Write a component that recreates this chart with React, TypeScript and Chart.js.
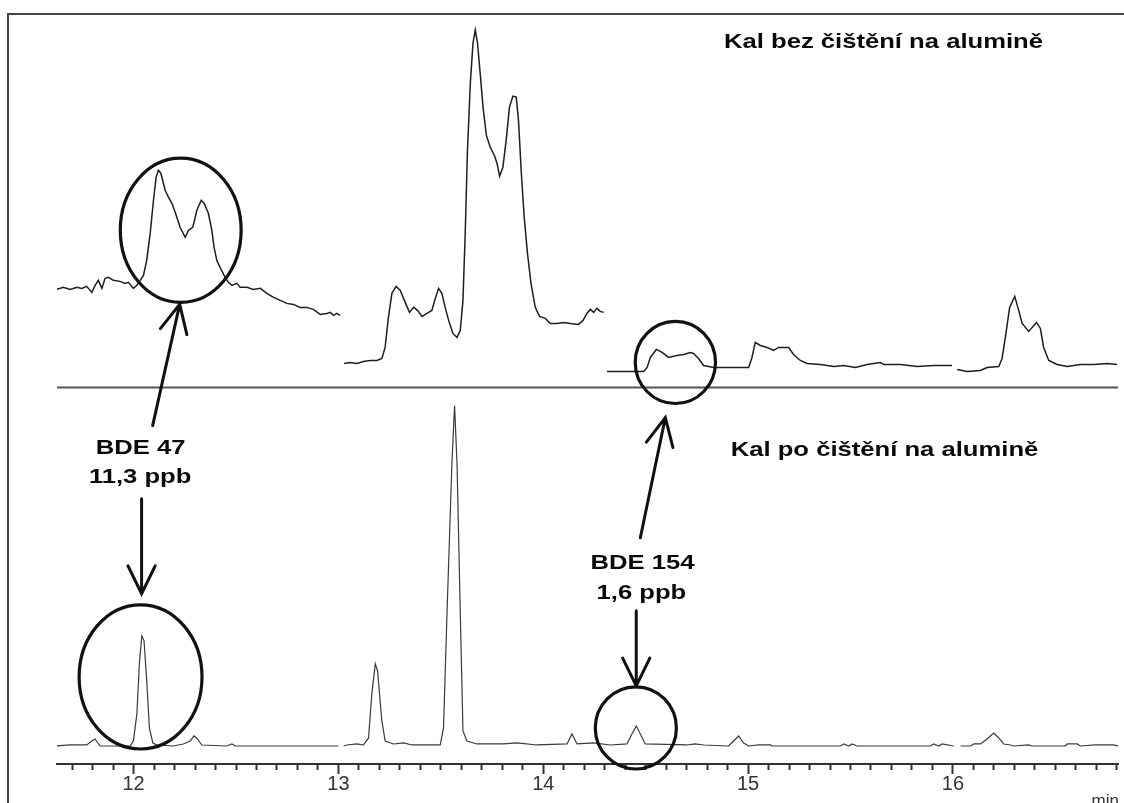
import React, { useEffect, useRef } from "react";
import { Chart, registerables } from "chart.js";

Chart.register(...registerables);

// ---------- data (time in min, signal in detector units) ----------
const upper1Time = [11.625, 11.657, 11.69, 11.723, 11.747, 11.771, 11.796, 11.812, 11.828, 11.845, 11.861, 11.877, 11.901, 11.934, 11.958, 11.975, 11.999, 12.016, 12.032, 12.048, 12.064, 12.081, 12.097, 12.11, 12.121, 12.133, 12.154, 12.17, 12.187, 12.203, 12.227, 12.252, 12.268, 12.289, 12.309, 12.33, 12.344, 12.365, 12.382, 12.393, 12.406, 12.422, 12.447, 12.463, 12.48, 12.504, 12.52, 12.553, 12.585, 12.618, 12.651, 12.683, 12.716, 12.748, 12.781, 12.813, 12.846, 12.878, 12.911, 12.944, 12.96, 12.976, 12.992, 13.009];
const upper1Signal = [474, 476, 474, 476, 475, 477, 471, 478, 483, 475, 485, 486, 483, 482, 480, 481, 475, 478, 483, 488, 503, 530, 563, 586, 593, 590, 573, 566, 560, 551, 536, 526, 533, 536, 553, 563, 560, 550, 533, 516, 503, 496, 486, 481, 478, 480, 476, 476, 474, 475, 470, 466, 463, 460, 459, 456, 456, 454, 449, 450, 451, 448, 450, 448];

const upper2Time = [13.028, 13.057, 13.09, 13.122, 13.155, 13.188, 13.212, 13.228, 13.244, 13.261, 13.282, 13.302, 13.326, 13.347, 13.367, 13.386, 13.408, 13.432, 13.456, 13.473, 13.489, 13.505, 13.521, 13.538, 13.559, 13.579, 13.595, 13.608, 13.619, 13.63, 13.644, 13.657, 13.668, 13.679, 13.692, 13.706, 13.722, 13.741, 13.761, 13.774, 13.787, 13.803, 13.819, 13.835, 13.852, 13.868, 13.879, 13.893, 13.907, 13.923, 13.94, 13.961, 13.982, 14.01, 14.034, 14.067, 14.099, 14.132, 14.172, 14.194, 14.213, 14.23, 14.246, 14.262, 14.278, 14.295];
const upper2Signal = [400, 401, 400, 402, 403, 403, 405, 416, 446, 470, 477, 473, 461, 451, 456, 453, 447, 450, 453, 465, 475, 470, 456, 443, 430, 426, 433, 463, 530, 613, 680, 720, 733, 720, 690, 656, 628, 616, 608, 600, 587, 596, 623, 656, 667, 666, 643, 590, 546, 510, 480, 456, 447, 445, 440, 440, 441, 440, 439, 443, 450, 454, 451, 455, 452, 451];

const upper3Time = [14.311, 14.49, 14.507, 14.523, 14.552, 14.58, 14.612, 14.653, 14.685, 14.718, 14.734, 14.758, 14.783, 14.807, 14.832, 15.003, 15.019, 15.035, 15.06, 15.093, 15.125, 15.149, 15.198, 15.222, 15.255, 15.288, 15.353, 15.418, 15.467, 15.524, 15.581, 15.646, 15.662, 15.744, 15.825, 15.906, 15.996];
const upper3Signal = [392, 392, 396, 406, 414, 411, 406, 408, 409, 411, 410, 405, 398, 397, 396, 396, 406, 421, 418, 416, 413, 416, 416, 409, 403, 400, 399, 397, 398, 396, 399, 401, 399, 399, 397, 398, 398];

const upper4Time = [16.021, 16.069, 16.134, 16.167, 16.224, 16.24, 16.256, 16.277, 16.302, 16.321, 16.338, 16.37, 16.408, 16.427, 16.443, 16.468, 16.509, 16.558, 16.623, 16.688, 16.753, 16.802];
const upper4Signal = [394, 392, 393, 396, 397, 405, 426, 456, 467, 453, 440, 432, 441, 435, 416, 403, 399, 397, 399, 399, 400, 399];

const separatorTime = [11.626, 16.806];
const separatorSignal = [376, 376];

const lower1Time = [11.625, 11.69, 11.771, 11.796, 11.812, 11.836, 11.983, 11.999, 12.016, 12.028, 12.04, 12.051, 12.064, 12.077, 12.094, 12.113, 12.194, 12.243, 12.276, 12.295, 12.312, 12.333, 12.455, 12.48, 12.496, 13.0];
const lower1Signal = [18, 19, 19, 23, 25, 18, 18, 23, 50, 100, 128, 123, 83, 36, 21, 19, 18, 20, 23, 28, 25, 19, 18, 20, 18, 18];

const lower2Time = [13.025, 13.041, 13.09, 13.122, 13.147, 13.163, 13.18, 13.191, 13.212, 13.228, 13.269, 13.318, 13.359, 13.497, 13.513, 13.53, 13.554, 13.567, 13.579, 13.595, 13.608, 13.627, 13.676, 13.806, 13.872, 13.969, 14.116, 14.14, 14.165, 14.246, 14.327, 14.409, 14.433, 14.454, 14.474, 14.498, 14.702, 14.742, 14.783, 14.905, 14.929, 14.954, 14.978, 15.003, 15.052, 15.109, 15.117, 15.451, 15.467, 15.491, 15.508, 15.532, 15.89, 15.906, 15.931, 15.947, 16.004];
const lower2Signal = [18, 19, 20, 19, 26, 70, 100, 93, 43, 23, 20, 21, 19, 19, 36, 150, 300, 358, 300, 150, 33, 23, 20, 20, 21, 19, 20, 30, 20, 21, 19, 20, 30, 38, 30, 20, 19, 20, 19, 18, 23, 28, 21, 18, 19, 19, 18, 18, 20, 18, 20, 18, 18, 20, 18, 20, 18];

const lower3Time = [16.037, 16.086, 16.102, 16.134, 16.167, 16.199, 16.224, 16.248, 16.281, 16.297, 16.37, 16.386, 16.549, 16.558, 16.607, 16.623, 16.696, 16.785, 16.806];
const lower3Signal = [18, 18, 20, 20, 25, 31, 26, 20, 19, 18, 19, 18, 18, 20, 20, 18, 19, 19, 18];

const majorTicks = [12, 13, 14, 15, 16];
const minorTickRange = [11.7, 16.8];
const xRange = [11.626, 16.806];
const yRange = [0, 749];
const axisUnit = "min";

// ---------- annotations (in data coordinates) ----------
const ellipses = [
  { t: 12.23, s: 533, rt: 0.295, rs: 72 },
  { t: 14.645, s: 401, rt: 0.196, rs: 41 },
  { t: 12.034, s: 87, rt: 0.3, rs: 72 },
  { t: 14.452, s: 36, rt: 0.198, rs: 41 },
];
const arrows = [
  { t0: 12.093, s0: 338, t1: 12.225, s1: 459 },
  { t0: 12.039, s0: 265, t1: 12.039, s1: 170 },
  { t0: 14.474, s0: 226, t1: 14.596, s1: 346 },
  { t0: 14.454, s0: 153, t1: 14.454, s1: 78 },
];
const labels = [
  { text: "Kal bez čištění na alumině", t: 15.661, s: 715 },
  { text: "Kal po čištění na alumině", t: 15.666, s: 308 },
  { text: "BDE 47", t: 12.034, s: 310 },
  { text: "11,3 ppb", t: 12.032, s: 281 },
  { text: "BDE 154", t: 14.484, s: 195 },
  { text: "1,6 ppb", t: 14.479, s: 165 },
];

const FONT = '"Liberation Sans", Arial, sans-serif';

function pts(xs: number[], ys: number[]) {
  return xs.map((x, i) => ({ x, y: ys[i] }));
}

export default function App() {
  const ref = useRef<HTMLCanvasElement>(null);

  useEffect(() => {
    document.body.style.margin = "0";
    const canvas = ref.current;
    if (!canvas) return;

    const tickValues: number[] = [];
    for (let k = Math.round(minorTickRange[0] * 10); k <= Math.round(minorTickRange[1] * 10); k++) {
      tickValues.push(k / 10);
    }
    const isMajor = (v: number) => majorTicks.some((m) => Math.abs(m - v) < 1e-6);

    const annotPlugin = {
      id: "annot",
      afterDraw(chart: any) {
        const { ctx, chartArea } = chart;
        const xs = chart.scales.x;
        const ys = chart.scales.y;
        const px = (v: number) => xs.getPixelForValue(v);
        const py = (v: number) => ys.getPixelForValue(v);
        ctx.save();
        // frame
        ctx.strokeStyle = "#444";
        ctx.lineWidth = 2;
        ctx.beginPath();
        ctx.moveTo(8, chart.height);
        ctx.lineTo(8, chartArea.top);
        ctx.lineTo(chart.width, chartArea.top);
        ctx.stroke();

        // ellipses
        ctx.strokeStyle = "#111";
        ctx.lineWidth = 3.2;
        for (const e of ellipses) {
          const cx = px(e.t), cy = py(e.s);
          const rx = Math.abs(px(e.t + e.rt) - cx);
          const ry = Math.abs(py(e.s + e.rs) - cy);
          ctx.beginPath();
          ctx.ellipse(cx, cy, rx, ry, 0, 0, Math.PI * 2);
          ctx.stroke();
        }
        // arrows
        ctx.lineWidth = 3;
        ctx.lineCap = "round";
        for (const a of arrows) {
          const x0 = px(a.t0), y0 = py(a.s0), x1 = px(a.t1), y1 = py(a.s1);
          const ang = Math.atan2(y1 - y0, x1 - x0);
          const L = 31, th = (26 * Math.PI) / 180;
          ctx.beginPath();
          ctx.moveTo(x0, y0);
          ctx.lineTo(x1, y1);
          ctx.moveTo(x1 - L * Math.cos(ang - th), y1 - L * Math.sin(ang - th));
          ctx.lineTo(x1, y1);
          ctx.lineTo(x1 - L * Math.cos(ang + th), y1 - L * Math.sin(ang + th));
          ctx.stroke();
        }
        // labels (horizontally stretched bold sans)
        ctx.fillStyle = "#0a0a0a";
        ctx.font = `bold 20.5px ${FONT}`;
        ctx.textAlign = "center";
        ctx.textBaseline = "alphabetic";
        for (const l of labels) {
          ctx.save();
          ctx.translate(px(l.t), py(l.s));
          ctx.scale(1.25, 1);
          ctx.fillText(l.text, 0, 0);
          ctx.restore();
        }
        // axis unit
        ctx.fillStyle = "#333";
        ctx.font = `17px ${FONT}`;
        ctx.textAlign = "right";
        ctx.fillText(axisUnit, xs.right + 1, chart.height + 3);
        ctx.restore();
      },
    };

    const upperStyle = { borderColor: "#1e1e1e", borderWidth: 1.5 };
    const lowerStyle = { borderColor: "#3a3a3a", borderWidth: 1.2 };
    const common = { showLine: true, pointRadius: 0, tension: 0, fill: false };

    const chart = new Chart(canvas, {
      type: "scatter",
      data: {
        datasets: [
          { ...common, ...upperStyle, data: pts(upper1Time, upper1Signal) },
          { ...common, ...upperStyle, data: pts(upper2Time, upper2Signal) },
          { ...common, ...upperStyle, data: pts(upper3Time, upper3Signal) },
          { ...common, ...upperStyle, data: pts(upper4Time, upper4Signal) },
          { ...common, borderColor: "#555", borderWidth: 2, data: pts(separatorTime, separatorSignal) },
          { ...common, ...lowerStyle, data: pts(lower1Time, lower1Signal) },
          { ...common, ...lowerStyle, data: pts(lower2Time, lower2Signal) },
          { ...common, ...lowerStyle, data: pts(lower3Time, lower3Signal) },
        ],
      },
      options: {
        responsive: false,
        animation: false,
        devicePixelRatio: 1,
        events: [],
        layout: { padding: { left: 57, right: 6, top: 14, bottom: 9 } },
        plugins: { legend: { display: false }, tooltip: { enabled: false } },
        scales: {
          x: {
            type: "linear",
            min: xRange[0],
            max: xRange[1],
            afterBuildTicks: (scale: any) => {
              scale.ticks = tickValues.map((v) => ({ value: v }));
            },
            border: { display: true, color: "#333", width: 2 },
            grid: {
              drawOnChartArea: false,
              drawTicks: true,
              tickLength: 10,
              tickWidth: 2,
              tickColor: "#333",
              tickBorderDash: (c: any) => (c.tick && isMajor(c.tick.value) ? [] : [5, 30]),
            },
            ticks: {
              autoSkip: false,
              maxRotation: 0,
              padding: 0,
              color: "#333",
              font: { family: FONT, size: 20, lineHeight: 1 },
              callback: (v: any) => (isMajor(Number(v)) ? String(Math.round(Number(v))) : ""),
            },
          },
          y: { display: false, min: yRange[0], max: yRange[1] },
        },
      },
      plugins: [annotPlugin],
    } as any);

    return () => chart.destroy();
  }, []);

  return (
    <div style={{ position: "absolute", left: 0, top: 0, width: 1124, height: 803, background: "#fff" }}>
      <canvas ref={ref} width={1124} height={803} />
    </div>
  );
}
